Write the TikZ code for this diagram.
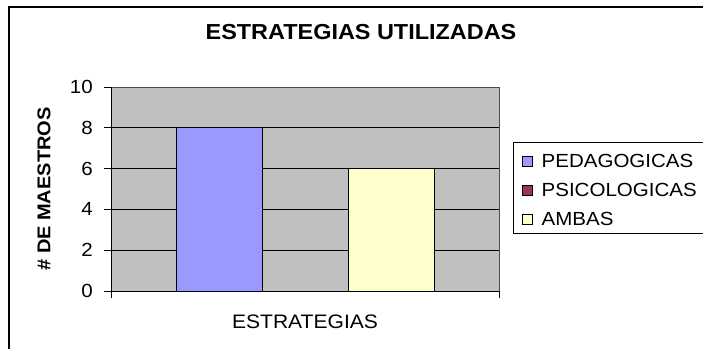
\documentclass[tikz,border=0pt]{standalone}
\usepackage{fontspec}
\setmainfont{Liberation Sans}[FakeStretch=1.08]
\usetikzlibrary{positioning}

\definecolor{plotgray}{HTML}{C0C0C0}
\definecolor{pedblue}{HTML}{9999FF}
\definecolor{psicpurple}{HTML}{993366}
\definecolor{ambyellow}{HTML}{FFFFCC}

\tikzset{
  bar/.style={draw=black,line width=1pt},
  legkey/.style={draw=black,line width=0.9pt,minimum size=10pt,inner sep=0pt},
  legtext/.style={anchor=west,inner sep=0pt,font=\fontsize{19}{19}\selectfont},
  ticklabel/.style={anchor=east,inner sep=0pt,font=\fontsize{19}{19}\selectfont}
}

\begin{document}
\begin{tikzpicture}[x=1pt,y=-1pt]
\useasboundingbox (0,0) rectangle (703,348);
\clip (0,0) rectangle (703,348);
% outer frame
\draw[line width=1.3pt] (9,400) -- (9,7) -- (760,7);
\node[font=\bfseries\fontsize{21.7}{21.7}\selectfont] (title) at (361,32) {ESTRATEGIAS UTILIZADAS};
% plot area
\fill[plotgray] (111,87) rectangle (499,291);
\draw[gray!60!black,line width=0.8pt] (111,87) -- (499,87) -- (499,291);
\foreach \v in {2,4,6,8}
  \draw[line width=1pt] (111,{291-20.4*\v}) -- (499,{291-20.4*\v});
% bars
\draw[bar,fill=pedblue] (176,291) rectangle (262,{291-20.4*8});
\draw[bar,fill=ambyellow] (348,291) rectangle (434,{291-20.4*6});
% axes
\draw[line width=1pt] (111,87) -- (111,298);
\draw[line width=1pt] (111,291) -- (499,291) -- (499,298);
\foreach \v in {0,2,...,10}{
  \draw[line width=1pt] (104,{291-20.4*\v}) -- (111,{291-20.4*\v});
  \node[ticklabel] (tick\v) at (93,{291-20.4*\v}) {\v};
}
\node[rotate=90,font=\bfseries\fontsize{18.5}{18.5}\selectfont] (ylabel) at (44,189) {\# DE MAESTROS};
\node[font=\fontsize{19.5}{19.5}\selectfont] (xlabel) at (305,322) {ESTRATEGIAS};
% legend
\draw[line width=1pt] (513,142) rectangle (760,233);
\node[legkey,fill=pedblue] (keyped) at (527,161) {};
\node[legkey,fill=psicpurple] (keypsi) at (527,190) {};
\node[legkey,fill=ambyellow] (keyamb) at (527,219) {};
\node[legtext,right=9pt of keyped] (legped) {PEDAGOGICAS};
\node[legtext,right=9pt of keypsi] (legpsi) {PSICOLOGICAS};
\node[legtext,right=9pt of keyamb] (legamb) {AMBAS};
\end{tikzpicture}
\end{document}
